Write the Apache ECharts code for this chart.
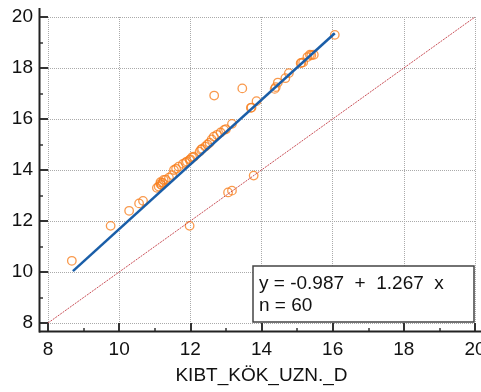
<!DOCTYPE html>
<html>
<head>
<meta charset="utf-8">
<script src="https://cdn.jsdelivr.net/npm/echarts@6/dist/echarts.min.js"></script>
<style>
html, body { margin: 0; padding: 0; background: #fff; }
#chart { width: 481px; height: 392px; }
</style>
</head>
<body>
<div id="chart"></div>
<script>
// measured values (x: KIBT_KÖK_UZN._D)
var xValues = [
    8.67, 9.76, 10.28, 10.56, 10.67, 11.06, 11.11, 11.16, 11.19, 11.25,
    11.31, 11.49, 11.54, 11.67, 11.79, 11.86, 11.98, 12.05, 12.26, 12.33,
    12.42, 12.54, 12.66, 12.85, 12.95, 13.17, 12.67, 13.46, 13.70, 13.86,
    14.37, 14.46, 14.67, 14.77, 15.10, 15.17, 15.29, 15.36, 15.47, 16.06,
    11.98, 13.06, 13.17, 13.78, 11.16, 11.40, 11.60, 11.90, 12.10, 12.30,
    12.48, 12.60, 12.75, 13.00, 14.40, 15.12, 15.40, 13.72, 11.22, 12.00
];
var yValues = [
    10.44, 11.81, 12.40, 12.69, 12.79, 13.30, 13.35, 13.52, 13.41, 13.61,
    13.62, 13.80, 14.00, 14.13, 14.24, 14.29, 14.39, 14.50, 14.72, 14.83,
    14.92, 15.07, 15.31, 15.47, 15.57, 15.81, 16.92, 17.20, 16.44, 16.70,
    17.18, 17.43, 17.60, 17.80, 18.19, 18.22, 18.43, 18.52, 18.52, 19.30,
    11.81, 13.12, 13.19, 13.78, 13.45, 13.70, 14.05, 14.33, 14.52, 14.80,
    15.00, 15.20, 15.38, 15.60, 17.25, 18.20, 18.50, 16.45, 13.50, 14.42
];
var fitIntercept = -0.987;
var fitSlope = 1.267;
var fitRange = [8.7, 16.06];
var identityLine = [[8, 8], [20, 20]];
var axisMin = 8;
var axisMax = 20;
var axisStep = 2;
var legendLines = ['y = -0.987  +  1.267  x', 'n = 60'];

var points = xValues.map(function (x, i) { return [x, yValues[i]]; });
var fitLine = fitRange.map(function (x) { return [x, fitIntercept + fitSlope * x]; });

var font = 'Liberation Sans, Arial, sans-serif';
var gridStyle = { color: '#aaa', type: 'dotted', width: 1 };

function makeAxis(extra) {
    var axis = {
        type: 'value',
        min: axisMin,
        max: axisMax,
        interval: axisStep,
        offset: 9,
        axisLine: { show: false },
        axisTick: { show: true, inside: true, length: 9, lineStyle: { color: '#333', width: 2 } },
        minorTick: { show: true, splitNumber: 2, length: 4, lineStyle: { color: '#333', width: 1.5 } },
        splitLine: { show: true, lineStyle: gridStyle },
        axisLabel: { fontSize: 19, color: '#111', fontFamily: font }
    };
    for (var k in extra) { axis[k] = extra[k]; }
    return axis;
}

var myChart = echarts.init(document.getElementById('chart'));
var option = {
    animation: false,
    grid: { left: 48, top: 17, width: 427, height: 306, containLabel: false, outerBoundsMode: 'none' },
    xAxis: makeAxis({
        name: 'KIBT_KÖK_UZN._D',
        nameLocation: 'middle',
        nameGap: 34,
        nameTextStyle: { fontSize: 19, color: '#111', fontFamily: font },
        axisLabel: { fontSize: 19, color: '#111', fontFamily: font, margin: 8 }
    }),
    yAxis: makeAxis({
        axisLabel: { fontSize: 19, color: '#111', fontFamily: font, margin: 6 }
    }),
    series: [
        {
            type: 'scatter',
            data: points,
            symbol: 'circle',
            symbolSize: 8.5,
            itemStyle: { color: 'rgba(255,255,255,0)', borderColor: '#f7801f', borderWidth: 1.3 },
            z: 2
        },
        {
            type: 'line',
            data: identityLine,
            symbol: 'none',
            lineStyle: { color: '#c0303a', width: 1, type: [2, 1], opacity: 0.85 },
            z: 3
        },
        {
            type: 'line',
            data: fitLine,
            symbol: 'none',
            lineStyle: { color: '#1a5ea8', width: 2.5 },
            z: 4
        }
    ],
    graphic: [
        { type: 'line', shape: { x1: 39, y1: 331.5, x2: 481, y2: 331.5 }, style: { stroke: '#222', lineWidth: 2 }, z: 10 },
        { type: 'line', shape: { x1: 39.5, y1: 8, x2: 39.5, y2: 332.5 }, style: { stroke: '#222', lineWidth: 2 }, z: 10 },
        {
            type: 'rect',
            shape: { x: 253, y: 266, width: 221, height: 56 },
            style: { fill: '#fff', stroke: '#444', lineWidth: 1.5 },
            z: 20
        },
        {
            type: 'text',
            x: 259, y: 274,
            style: { text: legendLines[0], fontSize: 19, fontFamily: font, fill: '#111' },
            z: 21
        },
        {
            type: 'text',
            x: 259, y: 296,
            style: { text: legendLines[1], fontSize: 19, fontFamily: font, fill: '#111' },
            z: 21
        }
    ]
};
myChart.setOption(option);
</script>
</body>
</html>
